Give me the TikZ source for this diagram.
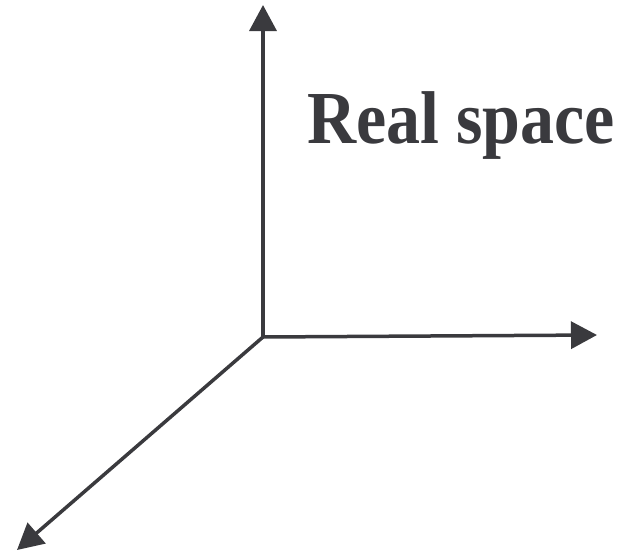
\documentclass[tikz,border=0pt]{standalone}
\usepackage{fontspec}
\setmainfont{Liberation Serif}
\usetikzlibrary{arrows.meta}
\definecolor{axiscol}{RGB}{58,58,62}
\tikzset{
  axis/.style={draw=axiscol, line width=3.5pt, -{Triangle[length=26pt,width=27pt]}},
  title/.style={text=axiscol, font=\fontsize{68}{80}\selectfont\bfseries, inner sep=0pt, anchor=base west}
}
\begin{document}
\begin{tikzpicture}[x=1pt,y=-1pt]
\useasboundingbox (0,0) rectangle (624,554);
\coordinate (O) at (263,337);
\coordinate (up) at (263,5);
\coordinate (right) at (597,335);
\coordinate (dl) at (17,550);
\draw[axis] (O) -- (up);
\draw[axis] (O) -- (right);
\draw[axis] (O) -- (dl);
\node[title] (label) at (307,143) {\scalebox{1}[1.1]{Real space}};
\end{tikzpicture}
\end{document}
